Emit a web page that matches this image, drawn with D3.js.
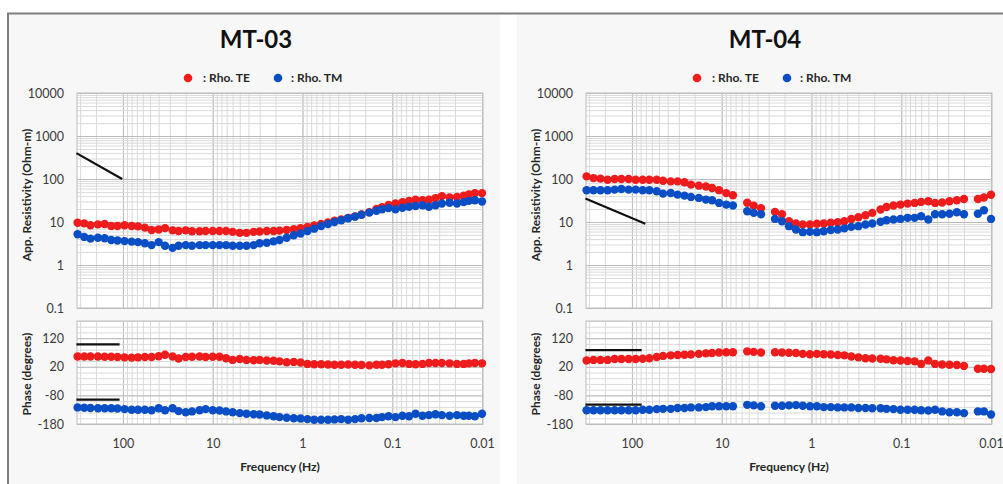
<!DOCTYPE html>
<html>

<head>
    <meta charset="utf-8">
    <style>
        body {
            margin: 0;
            background: #fff;
            font-family: Lato, 'Liberation Sans', sans-serif;
        }

        svg {
            display: block;
        }

        .minor line {
            stroke: #dadada;
        }

        .major line {
            stroke: #bcbcbc;
        }

        .grid .domain,
        .axis .domain {
            display: none;
        }

        .axis text {
            font-family: Lato, sans-serif;
            font-size: 12.5px;
            fill: #3a3a3a;
        }

        .title {
            font-size: 24px;
            font-weight: 700;
            fill: #111;
        }

        .axis-label,
        .legend {
            font-size: 12px;
            font-weight: 700;
            fill: #262626;
        }
    </style>
</head>

<body>
    <svg width="1003" height="484"></svg>

    <script src="https://d3js.org/d3.v7.min.js"></script>
    <script>
        // ---- data ----
        let freqTicks = [100, 10, 1, 0.1, 0.01]
        let rhoTicks = [0.1, 1, 10, 100, 1000, 10000]
        let phaseTicks = [-180, -80, 20, 120]

        // MT-03
        let freq03 = [320, 270, 230, 190, 160, 135, 115, 96, 80, 68,
            57, 48, 40, 34, 28, 24, 20, 17, 14, 12,
            10, 8.4, 7.1, 6.0, 5.0, 4.2, 3.5, 3.0, 2.5, 2.1,
            1.8, 1.5, 1.25, 1.05, 0.88, 0.74, 0.62, 0.52, 0.44, 0.37,
            0.31, 0.26, 0.22, 0.18, 0.15, 0.13, 0.11, 0.092, 0.077, 0.065,
            0.055, 0.046, 0.039, 0.033, 0.028, 0.023, 0.019, 0.016, 0.014, 0.012,
            0.01]
        let teRho03 = [9.6, 9.3, 8.4, 8.8, 9.0, 8.1, 8.1, 8.4, 8.1, 7.9,
            7.4, 6.5, 6.7, 7.2, 6.4, 6.2, 6.4, 6.1, 6.1, 6.2,
            6.2, 6.2, 6.2, 5.9, 5.6, 5.6, 5.9, 6.0, 6.2, 6.2,
            6.3, 6.5, 6.8, 7.2, 7.7, 8.3, 9.0, 9.8, 10.7, 11.5,
            12.5, 13.5, 15, 17, 20, 22, 25, 27, 29, 31,
            33, 32, 33, 36, 40, 37, 38, 41, 44, 47,
            47]
        let tmRho03 = [5.2, 4.5, 4.1, 4.3, 4.2, 3.8, 3.7, 3.6, 3.5, 3.4,
            3.2, 2.9, 3.4, 2.8, 2.5, 2.8, 2.9, 2.8, 2.9, 2.9,
            2.9, 2.9, 2.9, 2.8, 2.8, 2.8, 2.9, 3.2, 3.3, 3.55,
            3.8, 4.3, 4.9, 5.4, 6.2, 7.0, 8.1, 9.0, 10, 11,
            12.2, 13.3, 14.8, 16.5, 18.3, 19.7, 21, 19.7, 21.5, 22.7,
            23.5, 24.5, 22.7, 24.5, 27, 28, 27, 29, 31, 32,
            30]
        let tePhase03 = [56, 56, 56, 56, 55, 55, 54, 53, 52, 53,
            54, 54, 57, 62, 56, 49, 54, 55, 56, 54,
            55, 55, 50, 44, 47, 44, 43, 44, 42, 41,
            39, 36, 37, 35, 30, 29, 29, 28, 27, 27,
            28, 27, 26, 25, 27, 27, 29, 32, 33, 30,
            29, 30, 33, 33, 33, 32, 30, 30, 32, 33,
            32]
        let tmPhase03 = [-122, -123, -124, -125, -125, -125, -126, -128, -130, -130,
            -130, -132, -125, -132, -125, -135, -139, -136, -132, -128,
            -132, -133, -136, -139, -142, -144, -146, -147, -150, -153,
            -156, -158, -160, -161, -163, -165, -165, -165, -164, -163,
            -165, -163, -160, -159, -159, -156, -153, -156, -151, -153,
            -144, -151, -149, -146, -149, -151, -149, -151, -151, -153,
            -144]
        let refRho03 = [[330, 400], [102, 100]]
        let refPhaseTop03 = [[330, 98], [109, 98]]
        let refPhaseBot03 = [[330, -95], [109, -95]]

        // MT-04
        let freq04 = [320, 268, 224, 187, 156, 131, 109, 91, 76, 64,
            53, 45, 37, 31, 26, 22, 18, 15, 12.8, 10.7,
            8.9, 7.5, 6.2, 5.2, 4.4, 3.65, 3.05, 2.55, 2.13, 1.78,
            1.49, 1.25, 1.04, 0.87, 0.73, 0.61, 0.51, 0.43, 0.36, 0.3,
            0.25, 0.21, 0.17, 0.146, 0.122, 0.102, 0.085, 0.071, 0.06, 0.05,
            0.042, 0.035, 0.029, 0.024, 0.02, 0.017, 0.014, 0.012, 0.01]
        let teRho04 = [115, 105, 102, 96, 100, 100, 100, 96, 96, 96,
            96, 91, 88, 88, 84, 74, 70, 67, 62, 55,
            47, 42, null, 28, 24, 21, null, 17.2, 15.2, 10.4,
            9.2, 8.8, 8.8, 9.1, 9.2, 9.6, 9.9, 10.4, 11.8, 12.9,
            14.4, 16.3, 19.5, 22.4, 24.1, 25.4, 26.8, 27.8, 29.3, 30.4,
            27.8, 28.5, 30.4, 32, 34.4, null, 34.4, 37, 43]
        let tmRho04 = [54.6, 54.6, 54.6, 54.6, 56.6, 58.6, 56.6, 56.6, 54.6, 54.6,
            51.7, 45.7, 47.3, 43.3, 41.1, 38.3, 36.3, 33.2, 32, 27.8,
            25.4, 24.1, null, 17.8, 16.3, 15.2, null, 11.8, 10.4, 8.0,
            6.7, 5.8, 5.9, 5.8, 6.1, 6.5, 6.7, 7.1, 7.7, 8.0,
            8.75, 9.2, 10.1, 11.0, 11.4, 11.8, 12.5, 12.5, 13.6, 11.4,
            15.2, 15.2, 15.5, 16.9, 15.2, null, 15.5, 18.8, 11.8]
        let tePhase04 = [42, 44, 44, 44, 47, 47, 47, 47, 48, 50,
            54, 58, 60, 61, 62, 63, 65, 67, 68, 70,
            71, 71, null, 74, 72, 70, null, 71, 70, 69,
            68, 65, 64, 65, 64, 63, 61, 60, 56, 53,
            50, 49, 48, 46, 43, 42, 40, 39, 30, 42,
            30, 28, 27, 26, 23, null, 13, 13, 12]
        let tmPhase04 = [-132, -132, -132, -132, -132, -132, -132, -132, -130, -130,
            -128, -127, -127, -124, -124, -122, -122, -121, -118, -118,
            -118, -118, null, -113, -115, -118, null, -116, -116, -115,
            -114, -116, -118, -118, -121, -121, -122, -122, -122, -124,
            -124, -125, -125, -127, -128, -130, -130, -130, -132, -133,
            -130, -136, -139, -139, -142, null, -136, -136, -147]
        let refRho04 = [[330, 35], [71, 9.1]]
        let refPhaseTop04 = [[330, 78], [78, 78]]
        let refPhaseBot04 = [[330, -112], [78, -112]]

        // ---- drawing ----
        let svg = d3.select("svg")
        let plotW = 406
        let red = "#ee1c1c"
        let blue = "#0a4ec6"

        let x = d3.scaleLog().domain([325, 0.00975]).range([0, plotW])
        let yRho = d3.scaleLog().domain([0.1, 10000]).range([308, 93])
        let yPh = d3.scaleLinear().domain([-180, 180]).range([424, 321])

        // outer frame
        svg.append("rect").attr("x", 9).attr("y", 15).attr("width", 491).attr("height", 469).attr("fill", "#f7f7f7")
        svg.append("rect").attr("x", 517).attr("y", 15).attr("width", 486).attr("height", 469).attr("fill", "#f7f7f7")
        svg.append("path").attr("d", "M8,484V13.5H1003").attr("fill", "none").attr("stroke", "#7c7c7c").attr("stroke-width", 2)

        function drawStation(ox, st) {
            let g = svg.append("g").attr("transform", `translate(${ox},0)`)

            let plots = [
                { y: yRho, top: 93, bottom: 308, minor: yRho.ticks(), major: rhoTicks },
                { y: yPh, top: 321, bottom: 424, minor: yPh.ticks(18), major: phaseTicks }
            ]

            plots.forEach(p => {
                let h = p.bottom - p.top
                g.append("rect").attr("x", 0).attr("y", p.top).attr("width", plotW).attr("height", h).attr("fill", "#fff")

                // vertical grid
                g.append("g").attr("class", "grid minor")
                    .attr("transform", `translate(0,${p.bottom})`)
                    .call(d3.axisBottom(x).tickValues(x.ticks()).tickSize(-h).tickFormat(""))
                g.append("g").attr("class", "grid major")
                    .attr("transform", `translate(0,${p.bottom})`)
                    .call(d3.axisBottom(x).tickValues(freqTicks).tickSize(-h).tickFormat(""))

                // horizontal grid
                g.append("g").attr("class", "grid minor")
                    .call(d3.axisLeft(p.y).tickValues(p.minor).tickSize(-plotW).tickFormat(""))
                g.append("g").attr("class", "grid major")
                    .call(d3.axisLeft(p.y).tickValues(p.major).tickSize(-plotW).tickFormat(""))

                g.append("rect").attr("x", 0).attr("y", p.top).attr("width", plotW).attr("height", h)
                    .attr("fill", "none").attr("stroke", "#bdbdbd")

                g.append("g").attr("class", "axis")
                    .call(d3.axisLeft(p.y).tickValues(p.major).tickSize(0).tickPadding(13).tickFormat(d => d))
            })

            g.append("g").attr("class", "axis")
                .attr("transform", "translate(0,424)")
                .call(d3.axisBottom(x).tickValues(freqTicks).tickSize(0).tickPadding(15).tickFormat(d => d))

            // reference lines
            let lineRho = d3.line().x(d => x(d[0])).y(d => yRho(d[1]))
            let linePh = d3.line().x(d => x(d[0])).y(d => yPh(d[1]))
            g.append("path").attr("d", lineRho(st.refRho)).attr("stroke", "#111").attr("stroke-width", 2.2).attr("fill", "none")
            g.append("path").attr("d", linePh(st.refTop)).attr("stroke", "#111").attr("stroke-width", 2.2).attr("fill", "none")
            g.append("path").attr("d", linePh(st.refBot)).attr("stroke", "#111").attr("stroke-width", 2.2).attr("fill", "none")

            // points
            let series = [
                { vals: st.teRho, y: yRho, color: red },
                { vals: st.tmRho, y: yRho, color: blue },
                { vals: st.tePh, y: yPh, color: red },
                { vals: st.tmPh, y: yPh, color: blue }
            ]
            series.forEach(s => {
                let pts = st.freq.map((f, i) => ({ f: f, v: s.vals[i] })).filter(d => d.v != null)
                g.append("g").selectAll("circle")
                    .data(pts)
                    .join("circle")
                    .attr("cx", d => x(d.f))
                    .attr("cy", d => s.y(d.v))
                    .attr("r", 4.2)
                    .attr("fill", s.color)
            })

            // titles and labels
            g.append("text").attr("class", "title")
                .attr("x", 179).attr("y", 48).attr("text-anchor", "middle").text(st.name)

            g.append("circle").attr("cx", 111).attr("cy", 78).attr("r", 4.3).attr("fill", red)
            g.append("text").attr("class", "legend").attr("x", 126).attr("y", 82).text(": Rho. TE")
            g.append("circle").attr("cx", 201).attr("cy", 78).attr("r", 4.3).attr("fill", blue)
            g.append("text").attr("class", "legend").attr("x", 214).attr("y", 82).text(": Rho. TM")

            g.append("text").attr("class", "axis-label")
                .attr("transform", "translate(-46,195) rotate(-90)")
                .attr("text-anchor", "middle").text("App. Resistivity (Ohm-m)")
            g.append("text").attr("class", "axis-label")
                .attr("transform", "translate(-46,374) rotate(-90)")
                .attr("text-anchor", "middle").text("Phase (degrees)")
            g.append("text").attr("class", "axis-label")
                .attr("x", plotW / 2).attr("y", 471).attr("text-anchor", "middle").text("Frequency (Hz)")
        }

        drawStation(77, {
            name: "MT-03", freq: freq03,
            teRho: teRho03, tmRho: tmRho03, tePh: tePhase03, tmPh: tmPhase03,
            refRho: refRho03, refTop: refPhaseTop03, refBot: refPhaseBot03
        })

        drawStation(586, {
            name: "MT-04", freq: freq04,
            teRho: teRho04, tmRho: tmRho04, tePh: tePhase04, tmPh: tmPhase04,
            refRho: refRho04, refTop: refPhaseTop04, refBot: refPhaseBot04
        })
    </script>
</body>

</html>
